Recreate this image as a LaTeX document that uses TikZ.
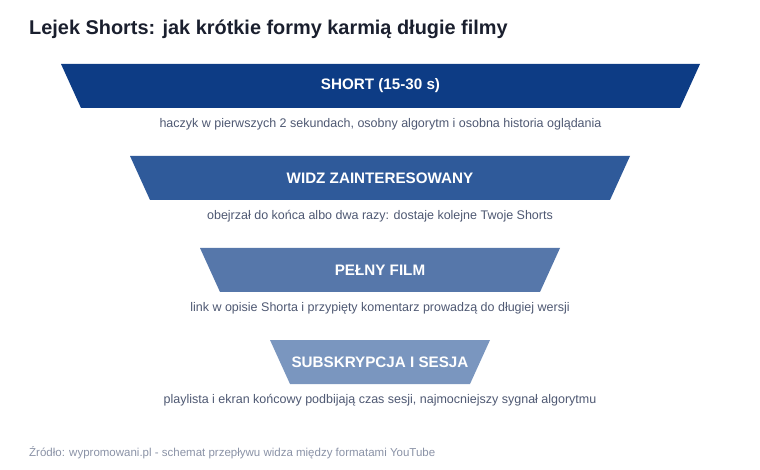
\documentclass[tikz,border=0pt]{standalone}
\usepackage{fontspec}
\setmainfont{Liberation Sans}
\definecolor{titlec}{HTML}{1A1F2E}
\definecolor{capc}{HTML}{4E5872}
\definecolor{srcc}{HTML}{8A92A6}
\definecolor{c1}{HTML}{0D3C85}
\definecolor{c2}{HTML}{2F5A9A}
\definecolor{c3}{HTML}{5677AA}
\definecolor{c4}{HTML}{7A96BF}
\tikzset{
  x=1pt,y=-1pt,
  lbl/.style={text=white,font=\fontsize{15.2}{17}\selectfont\bfseries,inner sep=0pt},
  capline/.style={text=capc,font=\fontsize{12.5}{14}\selectfont,inner sep=0pt},
}
\newcommand{\stage}[7]{%
  % #1 name, #2 colour, #3 top-left x, #4 top-right x, #5 top y, #6 label, #7 caption
  \fill[#2] (#3,#5) -- (#4,#5) -- ({#4-20},{#5+44}) -- ({#3+20},{#5+44}) -- cycle;
  \node[lbl] (#1) at ({(#3+#4)/2},{#5+22}) {#6};
  \node[capline] (#1cap) at ({(#3+#4)/2},{#5+60}) {#7};
}
\begin{document}
\begin{tikzpicture}
\useasboundingbox (0,0) rectangle (760,470);
\node[anchor=base west,inner sep=0pt,text=titlec,font=\fontsize{19.9}{22}\selectfont\bfseries] (title) at (29,35) {Lejek Shorts: jak krótkie formy karmią długie filmy};
\stage{s1}{c1}{61}{700}{64}{SHORT (15-30 s)}{haczyk w pierwszych 2 sekundach, osobny algorytm i osobna historia oglądania}
\stage{s2}{c2}{130}{630}{156}{WIDZ ZAINTERESOWANY}{obejrzał do końca albo dwa razy: dostaje kolejne Twoje Shorts}
\stage{s3}{c3}{200}{560}{248}{PEŁNY FILM}{link w opisie Shorta i przypięty komentarz prowadzą do długiej wersji}
\stage{s4}{c4}{270}{490}{340}{SUBSKRYPCJA I SESJA}{playlista i ekran końcowy podbijają czas sesji, najmocniejszy sygnał algorytmu}
\node[anchor=base west,inner sep=0pt,text=srcc,font=\fontsize{11.5}{13}\selectfont] (src) at (29,456) {Źródło: wypromowani.pl - schemat przepływu widza między formatami YouTube};
\end{tikzpicture}
\end{document}
